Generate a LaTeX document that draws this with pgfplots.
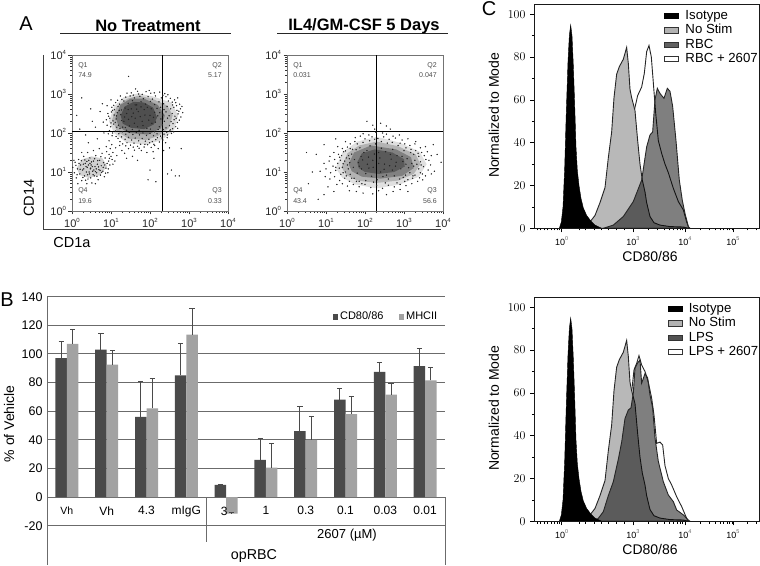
\documentclass[border=0pt]{standalone}
\usepackage{fontspec}
\setmainfont{Liberation Sans}
\usepackage{pgfplots}
\usepackage{pgfplotstable}
\pgfplotsset{compat=1.18}
\newcommand{\fs}[1]{\fontsize{#1}{#1}\selectfont}
\newcommand{\tp}[1]{10\raisebox{5.5pt}{\fs{6}#1}}
\newcommand{\tq}[1]{10\raisebox{5pt}{\fs{5.5}\color{black!60}#1}}
\definecolor{dk}{HTML}{4A4A4A}
\definecolor{lt}{HTML}{A2A2A2}
\def\logminor{0.3,0.48,0.6,0.7,0.78,0.85,0.9,0.95,1.3,1.48,1.6,1.7,1.78,1.85,1.9,1.95,2.3,2.48,2.6,2.7,2.78,2.85,2.9,2.95,3.3,3.48,3.6,3.7,3.78,3.85,3.9,3.95}
\pgfplotsset{
 flow/.style={scale only axis,width=156pt,height=156pt,xmin=0,xmax=4,ymin=0,ymax=4,
  axis line style={black!55,line width=.7pt},tick style={black!80,line width=.6pt},tick align=outside,tick pos=left,
  major tick length=3.5pt,minor tick length=1.8pt,
  xtick={0,1,2,3,4},ytick={0,1,2,3,4},minor xtick=\logminor,minor ytick=\logminor,
  xticklabels={\tp{0},\tp{1},\tp{2},\tp{3},\tp{4}},yticklabels={\tp{0},\tp{1},\tp{2},\tp{3},\tp{4}},
  tick label style={font=\fs{11},text=black!85},xticklabel style={yshift=0pt},yticklabel style={xshift=1pt}},
 dots/.style={only marks,mark=*,mark size=.45pt,black!85,mark options={draw=none,fill=black!85}},
 soft/.style={fill=black,fill opacity=#1,draw=none},
 hist/.style={scale only axis,width=225.3pt,height=223.7pt,xmin=192,xmax=868,ymin=0,ymax=104.5,axis on top,
  axis line style={black!90,line width=.7pt},tick align=outside,tick pos=left,
  x axis line style={},major tick length=4pt,minor tick length=2.2pt,tick style={black,line width=.7pt},
  ytick={0,20,40,60,80,100},minor ytick={10,30,50,70,90},
  xtick={275,489,645,789},xticklabels={\tq{0},\tq{3},\tq{4},\tq{5}},
  minor xtick={203,212,222,232,243,252,262,268,327,345,372,395,415,440,462,536,563,583,598,610,621,630,638,690,717,736,750,761,771,779,786,832,858},
  yticklabel style={font=\fs{12.5},xshift=-1pt},xticklabel style={font=\fs{9},yshift=-1pt},
  xlabel={CD80/86},ylabel={Normalized to Mode},
  xlabel style={font=\fs{14},at={(axis description cs:0.515,-0.128)},anchor=center},
  ylabel style={font=\fs{14},at={(axis description cs:-0.178,0.505)},anchor=center},
  legend cell align=left},
 lg/.style={legend style={draw=none,fill=none,inner sep=0pt,font=\fs{13.2},row sep=2.2pt,
  nodes={inner sep=0pt,text height=9.6pt,text depth=2.6pt},/tikz/every odd column/.append style={column sep=6.5pt}},
  legend image code/.code={\path[##1] (0pt,-2.6pt) rectangle (14pt,2.6pt);}},
}
\pgfplotstableread{
x y
268 0
274 3
279 10
284 28
289 55
294 78
298 90
302 95
306 90
310 76
314 58
318 38
322 27
327 20
333 14
340 9.5
350 6
362 3.5
375 1.5
395 0
}\isotype
\pgfplotstableread{
x y
345 0
360 3
375 6
390 12
405 19
415 33
425 45
432 61
440 72
448 75.5
460 79
470 84.5
475 77
480 65
485 61
495 55
503 41
510 30
517 22.5
525 17
530 12
540 5.5
552 2.6
570 1.5
600 0.8
640 0.6
655 0
}\nostim
\pgfplotstableread{
x y
400 0
430 1.5
460 5.5
490 12.5
515 22.5
530 38
540 43.6
548 45
555 60
562 65.4
570 63
582 60.7
592 65.4
600 64
608 57
618 41
628 22.5
637 13
645 7
655 0.8
660 0
}\rbc
\pgfplotstableread{
x y
370 0
385 1
410 2.3
430 4.7
445 12
455 24
465 36.6
475 46.7
490 53
503 62
515 66
523 72.4
530 82.5
537 85.4
544 80
550 68
557 54
565 41
575 35
585 30
595 26
610 18.7
625 12.5
640 8.6
650 3
657 0
}\rbcd
\pgfplotstableread{
x y
375 0
385 1.4
400 4.5
415 12
430 18.5
445 29
455 37
465 48
475 52
483 53
490 60
495 71.5
503 74
510 75.4
515 64.5
525 69
533 67
540 59
548 53
555 39
565 28
580 18.5
595 12.3
610 9.2
620 5.3
640 3
655 0.6
660 0
}\lps
\pgfplotstableread{
x y
385 0
400 3
415 10.7
430 15.4
440 23
455 35.7
470 45
483 57.5
492 70.7
500 73.8
507 77.4
515 73
525 70
535 65
545 57.5
552 49.7
560 36.4
570 37
578 35.7
585 26
595 20
605 17
620 11.5
635 6.9
650 1.4
656 0
}\lpsd
\begin{document}
\begin{tikzpicture}[x=1pt,y=1pt,font=\fs{12}]
\path[use as bounding box] (0,0) rectangle (760,565);
% ---------- Panel A, left
\begin{axis}[flow,at={(72pt,354pt)},anchor=south west]
\addplot[soft=.14] coordinates {(0.95,2.3)(1.08,2.68)(1.33,2.92)(1.7,3.02)(2.1,2.93)(2.55,2.78)(2.72,2.45)(2.62,2.08)(2.3,1.82)(1.9,1.7)(1.4,1.75)(1.08,2.0)} --cycle;
\addplot[soft=.2] coordinates {(1.03,2.35)(1.15,2.68)(1.42,2.88)(1.72,2.96)(2.1,2.86)(2.45,2.7)(2.58,2.45)(2.48,2.12)(2.2,1.92)(1.9,1.82)(1.45,1.85)(1.15,2.05)} --cycle;
\addplot[soft=.3] coordinates {(1.12,2.4)(1.24,2.72)(1.5,2.88)(1.85,2.88)(2.2,2.72)(2.38,2.45)(2.28,2.12)(1.95,1.96)(1.45,2.0)(1.2,2.16)} --cycle;
\addplot[soft=.35] coordinates {(1.25,2.45)(1.35,2.68)(1.58,2.8)(1.85,2.78)(2.08,2.65)(2.18,2.4)(2.1,2.22)(1.85,2.1)(1.52,2.13)(1.3,2.24)} --cycle;
\addplot[soft=.18] coordinates {(0.12,1.1)(0.25,1.32)(0.5,1.4)(0.78,1.35)(0.9,1.15)(0.72,0.92)(0.42,0.85)(0.2,0.92)} --cycle;
\addplot[dots] coordinates {
(1.63,3.13)(1.9,3.06)(2.02,3.02)(2.25,3.05)(1.71,3.0)(2.38,3.01)(1.52,3.03)(1.38,2.92)(1.49,2.95)(1.6,2.9)(1.74,2.94)(1.83,2.88)(1.95,2.93)(2.06,2.87)(2.14,2.95)(2.29,2.9)(2.41,2.93)(2.52,2.89)(2.63,2.85)(2.71,2.9)(1.28,2.86)
(1.12,2.78)(1.22,2.74)(1.33,2.82)(1.44,2.76)(1.55,2.83)(1.66,2.72)(1.77,2.8)(1.89,2.74)(2.01,2.81)(2.12,2.73)(2.23,2.8)(2.35,2.75)(2.47,2.82)(2.58,2.72)(2.66,2.78)(2.76,2.74)(2.82,2.68)
(1.02,2.66)(1.09,2.6)(1.18,2.68)(1.27,2.59)(1.36,2.64)(2.27,2.66)(2.36,2.6)(2.44,2.68)(2.53,2.62)(2.61,2.66)(2.69,2.58)(2.78,2.62)
(0.92,2.5)(1.01,2.54)(1.08,2.46)(1.16,2.52)(2.25,2.52)(2.33,2.46)(2.41,2.54)(2.49,2.44)(2.57,2.5)(2.64,2.43)(2.72,2.49)(2.79,2.41)
(0.88,2.34)(0.97,2.38)(1.05,2.31)(1.13,2.36)(2.28,2.36)(2.37,2.3)(2.45,2.38)(2.54,2.29)(2.62,2.34)(2.7,2.27)
(0.9,2.2)(0.99,2.16)(1.07,2.23)(1.15,2.15)(1.23,2.12)(2.24,2.16)(2.32,2.21)(2.41,2.13)(2.5,2.19)(2.58,2.11)(2.66,2.16)
(0.96,2.06)(1.04,2.0)(1.12,2.05)(1.2,1.98)(1.29,2.03)(1.38,1.97)(1.47,2.02)(1.56,1.96)(1.65,2.01)(1.73,1.95)(1.82,2.0)(1.91,1.94)(2.0,1.99)(2.09,1.93)(2.18,1.98)(2.27,1.92)(2.36,1.97)(2.45,1.95)(2.55,1.99)
(1.18,1.86)(1.27,1.9)(1.36,1.84)(1.45,1.89)(1.53,1.82)(1.62,1.87)(1.71,1.8)(1.8,1.86)(1.88,1.79)(1.97,1.84)(2.06,1.78)(2.15,1.83)(2.24,1.77)(2.33,1.82)(2.4,1.75)
(1.3,1.72)(1.41,1.75)(1.5,1.69)(1.59,1.74)(1.68,1.66)(1.76,1.71)(1.85,1.64)(1.94,1.7)(2.03,1.63)(2.12,1.68)(2.21,1.6)(1.45,1.6)(1.6,1.56)(1.78,1.55)(1.92,1.5)(2.08,1.52)
(1.4,2.5)(1.52,2.62)(1.7,2.55)(1.85,2.6)(2.0,2.45)(1.6,2.25)(1.45,2.35)(1.8,2.3)(2.05,2.25)(1.92,2.12)(1.33,2.3)(1.62,2.72)
(1.07,2.71)(1.17,2.84)(1.24,2.95)(1.41,3.02)(1.57,2.97)(1.68,3.07)(1.8,2.99)(1.98,3.09)(2.11,3.03)(2.33,2.97)(2.46,2.98)(2.57,2.79)(2.68,2.7)(2.74,2.56)(2.84,2.52)(2.67,2.38)(2.75,2.33)(2.59,2.24)(2.71,2.12)(2.61,2.03)(2.5,2.05)(2.44,1.88)(2.31,1.87)(2.19,1.88)(2.1,1.71)(1.99,1.75)(1.87,1.71)(1.72,1.61)(1.57,1.64)(1.38,1.67)(1.23,1.78)(1.13,1.91)(1.03,1.93)(0.93,1.98)(1.0,2.26)(0.94,2.43)(1.04,2.58)(1.21,2.58)(1.25,2.47)(1.14,2.44)(1.11,2.27)(1.19,2.2)(1.27,2.32)(1.37,2.14)(1.35,2.41)(1.47,2.18)(1.44,2.6)(1.53,2.42)(1.57,2.51)(1.62,2.38)(1.66,2.61)(1.68,2.16)(1.75,2.42)(1.77,2.67)(1.82,2.19)(1.87,2.46)(1.93,2.66)(1.97,2.33)(2.03,2.62)(2.09,2.4)(2.12,2.53)(2.14,2.28)(2.18,2.63)(2.2,2.44)(2.21,2.09)(1.3,2.15)(1.4,2.07)(1.55,2.09)(1.72,2.07)(2.01,2.1)(2.12,2.03)(2.34,2.09)(2.43,2.02)(2.52,2.08)
(0.25,2.9)(0.48,2.62)(0.12,2.45)(0.72,2.55)(0.8,2.28)(0.6,2.15)(0.35,1.95)(0.65,1.85)(0.82,2.0)(0.52,2.3)(0.9,2.7)(1.0,2.85)(1.45,3.45)(0.78,2.75)(0.2,2.1)(0.42,1.75)(0.95,1.8)
(0.88,1.65)(1.02,1.7)(1.12,1.62)(1.22,1.68)(1.05,1.5)(1.15,1.42)(1.28,1.55)(1.35,1.48)(0.95,1.45)(1.4,1.35)(1.55,1.4)(1.68,1.3)(2.1,1.35)(2.35,1.55)(2.5,1.62)(2.8,1.6)(2.55,1.05)(2.75,0.9)(2.15,0.75)(2.0,1.05)(1.95,0.8)(2.65,0.9)(2.45,0.95)
(0.02,1.12)(0.06,0.98)(0.08,1.25)(0.11,0.85)(0.14,1.08)(0.17,1.32)(0.2,0.95)(0.22,1.18)(0.25,0.78)(0.27,1.05)(0.3,1.4)(0.32,0.9)(0.34,1.22)(0.37,1.0)(0.39,1.12)(0.41,0.82)(0.43,1.3)(0.45,0.95)(0.47,1.08)(0.49,1.18)(0.51,0.72)(0.53,1.02)(0.55,1.28)(0.57,0.9)(0.59,1.14)(0.61,1.42)(0.63,0.98)(0.65,1.2)(0.67,0.8)(0.69,1.06)(0.71,1.3)(0.73,0.92)(0.75,1.16)(0.77,1.48)(0.79,1.02)(0.81,1.24)(0.83,0.88)(0.85,1.36)(0.87,1.1)(0.89,1.52)(0.92,0.98)(0.94,1.28)(0.97,1.18)(1.0,1.4)(1.03,1.32)(0.4,1.5)(0.55,1.55)(0.25,1.5)(0.7,1.6)(0.15,0.7)(0.38,0.7)(0.6,0.7)(0.48,1.1)(0.44,1.0)(0.52,1.14)(0.36,1.14)(0.56,1.05)(0.46,1.22)(0.3,1.08)(0.62,1.08)
(0.05,1.3)(0.1,1.17)(0.13,0.93)(0.18,1.22)(0.21,1.07)(0.24,1.29)(0.28,0.86)(0.29,1.2)(0.33,1.31)(0.35,0.79)(0.38,1.27)(0.4,0.93)(0.42,1.18)(0.46,1.36)(0.48,0.85)(0.5,1.26)(0.54,0.93)(0.58,1.34)(0.6,1.01)(0.64,0.89)(0.66,1.29)(0.68,1.13)(0.72,1.04)(0.74,1.39)(0.76,0.99)(0.8,1.12)(0.84,1.18)(0.86,0.97)(0.9,1.22)(0.93,1.08)(0.96,1.35)(1.05,1.2)(1.1,1.28)(0.98,1.6)
};
\draw[black,line width=1pt] (axis cs:2.31,0)--(axis cs:2.31,4) (axis cs:0,2.03)--(axis cs:4,2.03);
\path[font=\fs{7},text=black!70]
 (axis cs:0.07,3.73) node[anchor=west]{Q1} (axis cs:0.07,3.48) node[anchor=west]{74.9}
 (axis cs:3.93,3.73) node[anchor=east]{Q2} (axis cs:3.93,3.48) node[anchor=east]{5.17}
 (axis cs:0.07,0.51) node[anchor=west]{Q4} (axis cs:0.07,0.26) node[anchor=west]{19.6}
 (axis cs:3.93,0.51) node[anchor=east]{Q3} (axis cs:3.93,0.26) node[anchor=east]{0.33};
\end{axis}
% ---------- Panel A, right
\begin{axis}[flow,at={(287pt,354pt)},anchor=south west]
\addplot[soft=.12] coordinates {(1.25,1.1)(1.42,1.5)(1.8,1.78)(2.3,1.9)(2.9,1.75)(3.4,1.52)(3.58,1.2)(3.38,0.88)(2.9,0.68)(2.3,0.58)(1.75,0.68)(1.42,0.85)} --cycle;
\addplot[soft=.2] coordinates {(1.4,1.12)(1.55,1.48)(1.85,1.68)(2.3,1.78)(2.85,1.66)(3.3,1.45)(3.42,1.2)(3.25,0.95)(2.85,0.78)(2.3,0.72)(1.8,0.78)(1.52,0.92)} --cycle;
\addplot[soft=.28] coordinates {(1.58,1.2)(1.72,1.5)(2.15,1.68)(2.8,1.58)(3.18,1.38)(3.25,1.1)(2.95,0.9)(2.4,0.83)(1.92,0.88)(1.66,1.02)} --cycle;
\addplot[soft=.3] coordinates {(1.8,1.25)(1.92,1.48)(2.25,1.58)(2.7,1.5)(3.0,1.33)(3.02,1.14)(2.75,1.0)(2.35,0.95)(2.0,1.0)(1.84,1.1)} --cycle;
\addplot[dots] coordinates {
(2.2,2.2)(2.4,2.25)(2.65,2.1)(2.45,2.0)(1.95,1.98)(2.1,1.95)(2.28,2.02)(2.55,1.97)(2.72,1.92)(2.88,1.95)(1.75,1.88)(1.88,1.92)(2.0,1.85)(2.18,1.9)(2.33,1.86)(2.48,1.9)(2.62,1.84)(2.78,1.87)(2.95,1.82)(3.1,1.85)(3.3,1.78)
(1.5,1.78)(1.62,1.72)(1.74,1.78)(3.02,1.72)(3.15,1.68)(3.28,1.72)(3.42,1.62)(3.55,1.65)(1.3,1.65)(1.42,1.6)(1.55,1.64)(1.68,1.58)(3.3,1.55)(3.45,1.5)(3.6,1.52)(3.7,1.42)
(1.2,1.5)(1.32,1.45)(1.45,1.52)(1.58,1.42)(3.25,1.45)(3.38,1.4)(3.52,1.42)(3.64,1.3)(1.1,1.4)(1.22,1.32)(1.35,1.38)(1.48,1.28)(1.6,1.34)(3.28,1.3)(3.42,1.26)(3.56,1.32)(3.68,1.18)
(0.95,1.22)(1.08,1.28)(1.18,1.15)(1.3,1.22)(1.42,1.12)(1.55,1.18)(3.25,1.15)(3.38,1.08)(3.5,1.14)(3.62,1.05)(3.78,1.02)
(0.85,1.02)(1.0,1.08)(1.12,0.98)(1.25,1.04)(1.38,0.94)(1.5,1.0)(1.62,0.94)(3.15,0.98)(3.28,0.92)(3.42,0.98)(3.55,0.9)(3.7,0.95)
(0.98,0.88)(1.1,0.82)(1.22,0.88)(1.35,0.78)(1.48,0.84)(1.6,0.76)(1.72,0.84)(1.85,0.76)(2.98,0.86)(3.1,0.8)(3.22,0.84)(3.35,0.76)(3.48,0.8)
(1.28,0.68)(1.42,0.7)(1.55,0.64)(1.7,0.68)(1.85,0.62)(2.0,0.68)(2.15,0.6)(2.3,0.66)(2.45,0.58)(2.6,0.66)(2.75,0.62)(2.9,0.68)(3.05,0.65)(3.2,0.7)
(1.05,0.62)(1.6,0.52)(1.78,0.5)(1.95,0.46)(2.2,0.44)(2.35,0.52)(2.55,0.42)(2.72,0.5)(2.9,0.55)(3.1,0.5)(0.95,0.42)(1.2,0.5)(0.8,0.3)(0.55,0.7)(0.65,1.0)(0.75,1.45)(0.5,1.5)(0.95,1.7)(1.25,1.85)(3.75,1.7)(3.85,1.45)(3.95,1.25)
(1.9,1.4)(2.05,1.55)(2.2,1.3)(2.35,1.5)(2.5,1.2)(2.65,1.45)(2.8,1.25)(2.95,1.4)(2.1,1.1)(2.4,1.0)(2.7,1.05)(1.85,1.15)(3.05,1.2)(2.55,0.92)
(2.05,2.3)(2.25,2.1)(2.55,2.18)
(1.37,1.3)(1.44,1.21)(1.52,1.36)(1.57,1.08)(1.61,1.24)(1.66,1.46)(1.7,1.12)(1.73,1.32)(1.77,1.57)(1.8,0.97)(1.83,1.24)(1.87,1.62)(1.91,1.08)(1.94,1.31)(1.97,1.5)(2.02,0.96)(2.06,1.2)(2.09,1.38)(2.13,1.67)(2.17,0.89)(2.21,1.12)(2.24,1.46)(2.27,1.72)(2.31,0.8)(2.35,1.22)(2.38,1.36)(2.42,1.61)(2.46,0.88)(2.49,1.07)(2.53,1.52)(2.57,1.74)(2.6,0.82)(2.63,1.16)(2.67,1.33)(2.71,1.58)(2.75,0.9)(2.78,1.15)(2.82,1.42)(2.85,1.68)(2.89,0.82)(2.92,1.08)(2.97,1.27)(3.0,1.55)(3.04,0.92)(3.08,1.34)(3.12,1.11)(3.17,1.5)(3.2,1.22)(3.23,0.9)(3.33,1.2)(3.36,1.48)(3.44,1.18)(3.47,0.95)(3.4,0.85)(3.02,0.76)(2.82,0.72)(2.52,0.72)(2.22,0.74)(2.02,0.78)(1.92,0.7)(1.78,0.76)(1.66,0.84)(1.52,0.9)(1.44,0.98)(1.34,1.1)(1.25,1.12)(1.4,1.42)(1.5,1.54)(1.62,1.6)(1.8,1.72)(1.95,1.76)(2.12,1.8)(2.25,1.84)(2.42,1.78)(2.7,1.76)(2.9,1.74)(3.05,1.62)(3.18,1.58)
};
\draw[black,line width=1pt] (axis cs:2.3,0)--(axis cs:2.3,4) (axis cs:0,2.03)--(axis cs:4,2.03);
\path[font=\fs{7},text=black!70]
 (axis cs:0.07,3.73) node[anchor=west]{Q1} (axis cs:0.07,3.48) node[anchor=west]{0.031}
 (axis cs:3.93,3.73) node[anchor=east]{Q2} (axis cs:3.93,3.48) node[anchor=east]{0.047}
 (axis cs:0.07,0.51) node[anchor=west]{Q4} (axis cs:0.07,0.26) node[anchor=west]{43.4}
 (axis cs:3.93,0.51) node[anchor=east]{Q3} (axis cs:3.93,0.26) node[anchor=east]{56.6};
\end{axis}
% ---------- Panel B
\begin{axis}[at={(47pt,39.3pt)},anchor=south west,scale only axis,width=398pt,height=229pt,
 xmin=-0.5,xmax=9.5,ymin=-20,ymax=140,
 axis y line=left,axis x line=middle,axis line style={-,black!58,line width=.9pt},
 ytick={-20,0,20,40,60,80,100,120,140},yticklabels={-20,0,20,40,60,80,100,120,140},
 ymajorgrids,grid style={black!58,line width=.9pt},
 xtick={0,...,9},xticklabels={{\fs{10.5}Vh},Vh,4.3,mIgG,{},1,0.3,0.1,0.03,0.01},
 major tick length=0pt,
 yticklabel style={font=\fs{12.5},xshift=-1pt},
 xticklabel style={font=\fs{12},yshift=-6pt},
 ylabel={\fs{14}\% of Vehicle},ylabel style={at={(axis description cs:-0.095,0.445)},anchor=center},
 ybar=0pt,bar width=11.5pt,
 legend columns=2,
 legend style={draw=none,fill=none,at={(axis description cs:0.849,0.9125)},anchor=center,font=\fs{11},inner sep=0pt,
  nodes={inner sep=0pt},/tikz/every odd column/.append style={column sep=2pt},/tikz/every even column/.append style={column sep=15pt}},
 legend image code/.code={\fill[#1] (0pt,-2.8pt) rectangle (5.6pt,2.8pt);},
 error bars/error bar style={dk,line width=1pt},
 error bars/error mark options={rotate=90,mark size=2.6pt,dk,line width=1pt},
]
\addplot[fill=dk,draw=none,error bars/.cd,y dir=plus,y explicit] coordinates {
(0,97) +- (0,11.5)
(1,103) +- (0,11.5)
(2,56) +- (0,25)
(3,85) +- (0,22)
(4,8.5) +- (0,0.2)
(5,26) +- (0,15)
(6,46) +- (0,17.5)
(7,68) +- (0,8)
(8,87.5) +- (0,6.5)
(9,91.5) +- (0,12)
};
\addlegendentry{CD80/86}
\addplot[fill=lt,draw=none,error bars/.cd,y dir=plus,y explicit] coordinates {
(0,107) +- (0,10)
(1,92.5) +- (0,10)
(2,62) +- (0,21)
(3,113.5) +- (0,18.5)
(4,-11.5) +- (0,1)
(5,20.5) +- (0,17)
(6,40) +- (0,16.5)
(7,58) +- (0,12.5)
(8,71.5) +- (0,8)
(9,81.5) +- (0,9)
};
\addlegendentry{MHCII}
\node[font=\fs{12},anchor=center] at (axis cs:3.95,-9.8) {3};
\end{axis}
\draw[black!58,line width=.9pt] (47,39.3)--(47,0) (445,68)--(445,0) (206.7,68)--(206.7,23);
\node[font=\fs{13}] at (347,30) {2607 (µM)};
\node[font=\fs{14.3}] at (254,9) {opRBC};
% ---------- Panel C, top
\begin{axis}[hist,lg,at={(534pt,336.7pt)},anchor=south west,
 legend style={at={(axis cs:582,89.1)},anchor=west}]
\addplot[forget plot,fill=white,draw=black!85,line width=.9pt] table {\rbcd} --cycle;
\addplot[forget plot,fill=black!28,draw=black!85,line width=.9pt] table {\nostim} --cycle;
\addplot[forget plot,fill=black,fill opacity=.5,draw=black!85,line width=.9pt] table {\rbc} --cycle;
\addplot[forget plot,fill=black,draw=black] table {\isotype} --cycle;
\addlegendimage{fill=black,draw=black}
\addlegendimage{fill=black!30,draw=black!80,line width=.8pt}
\addlegendimage{fill=black!62,draw=black!80,line width=.8pt}
\addlegendimage{fill=white,draw=black!80,line width=.8pt}
\legend{Isotype,No Stim,RBC,RBC + 2607}
\end{axis}
% ---------- Panel C, bottom
\begin{axis}[hist,lg,at={(534pt,43.7pt)},anchor=south west,
 legend style={at={(axis cs:592,89.1)},anchor=west}]
\addplot[forget plot,fill=white,draw=black!85,line width=.9pt] table {\lpsd} --cycle;
\addplot[forget plot,fill=black!28,draw=black!85,line width=.9pt] table {\nostim} --cycle;
\addplot[forget plot,fill=black,fill opacity=.5,draw=black!85,line width=.9pt] table {\lps} --cycle;
\addplot[forget plot,fill=black,draw=black] table {\isotype} --cycle;
\addlegendimage{fill=black,draw=black}
\addlegendimage{fill=black!30,draw=black!80,line width=.8pt}
\addlegendimage{fill=black!68,draw=black!80,line width=.8pt}
\addlegendimage{fill=white,draw=black!80,line width=.8pt}
\legend{Isotype,No Stim,LPS,LPS + 2607}
\end{axis}
% ---------- Panel furniture
\draw[black!85,line width=1pt] (60,531)--(231,531) (277,531)--(448,531);
\draw[black!75,line width=1pt] (43,510)--(43,335)--(441,335);
\node[font=\bfseries\fs{16.5}] at (148,539) {No Treatment};
\node[font=\bfseries\fs{16.5}] at (364,539) {IL4/GM-CSF 5 Days};
\node[font=\fs{14.5},rotate=90] at (29,367) {CD14};
\node[font=\fs{14.5}] at (72,322) {CD1a};
\node[font=\fs{20}] at (26,541) {A};
\node[font=\fs{20}] at (7,265) {B};
\node[font=\fs{20}] at (489,556) {C};
\end{tikzpicture}
\end{document}
